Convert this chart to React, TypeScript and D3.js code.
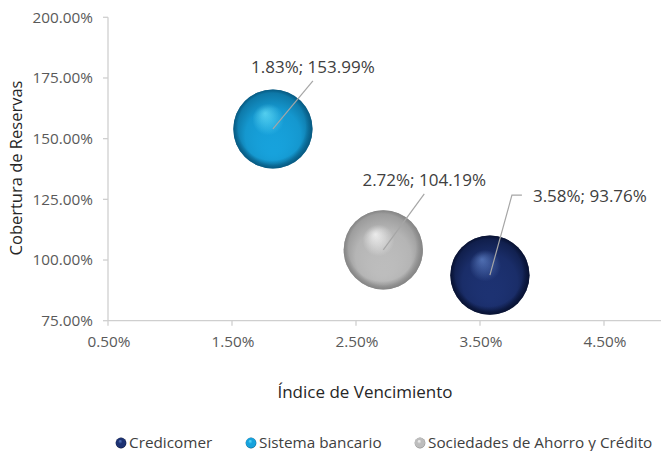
import React from "react";
import * as d3 from "d3";

const series = ["Credicomer", "Sistema bancario", "Sociedades de Ahorro y Crédito"];
const xValues = [3.58, 1.83, 2.72]; // Índice de Vencimiento (%)
const yValues = [93.76, 153.99, 104.19]; // Cobertura de Reservas (%)
const sizes = [1, 1, 1];
const xTicks = [0.5, 1.5, 2.5, 3.5, 4.5];
const yTicks = [75, 100, 125, 150, 175, 200];

const palette = [
  { base: "#1d3272", light: "#5a7cc4", dark: "#081233" },
  { base: "#17a2dc", light: "#5fe0ff", dark: "#075a82" },
  { base: "#bdbdbd", light: "#fbfbfb", dark: "#858585" },
];

// label offsets (relative to bubble centre) in px
const labelDx = [43, 40, 41];
const labelDy = [-80, -56, -64];

const W = 661;
const H = 451;
const FONT = "'Open Sans', sans-serif";

export default function App() {
  const x = d3.scaleLinear().domain([0.5, 5.0]).range([108, 666]);
  const y = d3.scaleLinear().domain([75, 200]).range([320.7, 17.3]);
  const r = d3.scaleSqrt().domain([0, 1]).range([0, 39.6]);
  const fmt = (v: number) => v.toFixed(2) + "%";

  const legendX = [121, 251, 420];

  return (
    <svg width={W} height={H} style={{ position: "absolute", left: 0, top: 0, background: "#fff" }}>
      <defs>
        {palette.map((p, i) => (
          <radialGradient key={i} id={`g${i}`} cx="0.5" cy="0.5" r="0.5" fx="0.4" fy="0.3">
            <stop offset="0%" stopColor={p.light} />
            <stop offset="40%" stopColor={p.base} />
            <stop offset="85%" stopColor={p.base} />
            <stop offset="100%" stopColor={p.dark} />
          </radialGradient>
        ))}
        {palette.map((p, i) => (
          <radialGradient key={"s" + i} id={`s${i}`} cx="0.5" cy="0.5" r="0.5" fx="0.5" fy="0.8">
            <stop offset="0%" stopColor={p.base} stopOpacity={0} />
            <stop offset="70%" stopColor={p.dark} stopOpacity={0.15} />
            <stop offset="100%" stopColor={p.dark} stopOpacity={0.7} />
          </radialGradient>
        ))}
      </defs>

      {/* axes */}
      <line x1={x(0.5)} x2={W} y1={y(75)} y2={y(75)} stroke="#cfcfcf" strokeWidth={1.3} />
      <line x1={x(0.5)} x2={x(0.5)} y1={y(75)} y2={y(200)} stroke="#cfcfcf" strokeWidth={1.3} />
      {xTicks.map((t) => (
        <g key={"xt" + t}>
          <line x1={x(t)} x2={x(t)} y1={y(75)} y2={y(75) + 5} stroke="#cfcfcf" strokeWidth={1.3} />
          <text x={x(t) + 1} y={346.5} textAnchor="middle" fontFamily={FONT} fontSize={15.3} fill="#595959">
            {fmt(t)}
          </text>
        </g>
      ))}
      {yTicks.map((t) => (
        <g key={"yt" + t}>
          <line x1={x(0.5) - 5} x2={x(0.5)} y1={y(t)} y2={y(t)} stroke="#cfcfcf" strokeWidth={1.3} />
          <text x={93} y={y(t)} dy="0.35em" textAnchor="end" fontFamily={FONT} fontSize={15.3} fill="#595959">
            {fmt(t)}
          </text>
        </g>
      ))}

      {/* axis titles */}
      <text
        transform={`translate(22,168) rotate(-90)`}
        textAnchor="middle"
        fontFamily={FONT}
        fontSize={16.5}
        fill="#262626"
      >
        Cobertura de Reservas
      </text>
      <text x={365} y={398} textAnchor="middle" fontFamily={FONT} fontSize={17} fill="#262626">
        Índice de Vencimiento
      </text>

      {/* bubbles */}
      {series.map((s, i) => (
        <g key={s}>
          <circle cx={x(xValues[i])} cy={y(yValues[i])} r={r(sizes[i])} fill={`url(#g${i})`} />
          <circle cx={x(xValues[i])} cy={y(yValues[i])} r={r(sizes[i])} fill={`url(#s${i})`} />
        </g>
      ))}

      {/* data labels with leader lines */}
      {series.map((s, i) => {
        const cx = x(xValues[i]);
        const cy = y(yValues[i]);
        const lx = cx + labelDx[i];
        const ly = cy + labelDy[i];
        const path =
          i === 0
            ? `M${cx},${cy} L${cx + 22},${ly} L${cx + 32},${ly}`
            : `M${cx},${cy} L${lx},${ly + 8}`;
        return (
          <g key={"l" + s}>
            <path d={path} fill="none" stroke="#a6a6a6" strokeWidth={1.2} />
            <text
              x={lx}
              y={i === 0 ? ly + 6.5 : ly}
              textAnchor={i === 0 ? "start" : "middle"}
              fontFamily={FONT}
              fontSize={17}
              fill="#404040"
            >
              {`${fmt(xValues[i])}; ${fmt(yValues[i])}`}
            </text>
          </g>
        );
      })}

      {/* legend */}
      {series.map((s, i) => (
        <g key={"lg" + s}>
          <circle cx={legendX[i]} cy={443} r={5.4} fill={`url(#g${i})`} />
          <text x={legendX[i] + 8} y={443} dy="0.35em" fontFamily={FONT} fontSize={15.3} fill="#404040">
            {s}
          </text>
        </g>
      ))}
    </svg>
  );
}
